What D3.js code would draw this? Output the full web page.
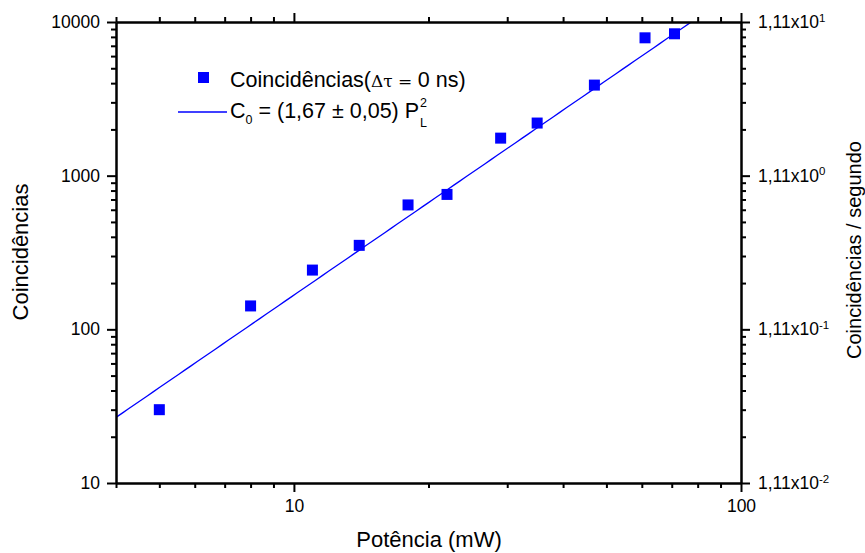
<!DOCTYPE html>
<html>
<head>
<meta charset="utf-8">
<script src="https://cdn.jsdelivr.net/npm/d3@7"></script>
<style>
  html, body { margin: 0; padding: 0; background: #fff; }
  svg { display: block; font-family: "Liberation Sans", Arial, sans-serif; }
</style>
</head>
<body>
<svg id="chart" width="865" height="553"></svg>
<script>
// Measured coincidences vs. laser power
const power  = [5, 8, 11, 14, 18, 22, 29, 35, 47, 61, 71];          // mW
const counts = [30, 142, 243, 352, 645, 755, 1755, 2200, 3885, 7890, 8380];

// Quadratic fit C0 = a * P^2
const fitCoef = 1.67;
const fitExp = 2;

// Axis ticks
const xMajor = [10, 100];
const xMinor = [4, 5, 6, 7, 8, 9, 20, 30, 40, 50, 60, 70, 80, 90];
const yMajor = [10, 100, 1000, 10000];
const yMinor = [20, 30, 40, 50, 60, 70, 80, 90,
                200, 300, 400, 500, 600, 700, 800, 900,
                2000, 3000, 4000, 5000, 6000, 7000, 8000, 9000];
const rateMantissa = "1,11x10";
const rateExponents = ["-2", "-1", "0", "1"];

const svg = d3.select("#chart");
const m = { left: 116, right: 741, top: 22, bottom: 483 };
const blue = "#0000ff";

const x = d3.scaleLog().domain([4, 100]).range([m.left, m.right]);
const y = d3.scaleLog().domain([10, 10000]).range([m.bottom, m.top]);

// clip region for the fit line
svg.append("defs").append("clipPath").attr("id", "plotClip")
  .append("rect")
  .attr("x", m.left).attr("y", m.top)
  .attr("width", m.right - m.left).attr("height", m.bottom - m.top);

// fit line
const fitPts = d3.range(0, 101).map(i => {
  const p = 4 * Math.pow(100 / 4, i / 100);
  return [p, fitCoef * Math.pow(p, fitExp)];
});
svg.append("path")
  .datum(fitPts)
  .attr("clip-path", "url(#plotClip)")
  .attr("fill", "none")
  .attr("stroke", blue)
  .attr("stroke-width", 1.3)
  .attr("d", d3.line().x(d => x(d[0])).y(d => y(d[1])));

// data markers
const sq = 11;
svg.append("g").selectAll("rect")
  .data(power.map((p, i) => [p, counts[i]]))
  .join("rect")
  .attr("x", d => x(d[0]) - sq / 2)
  .attr("y", d => y(d[1]) - sq / 2)
  .attr("width", sq).attr("height", sq)
  .attr("fill", blue);

// axes
function styleAxis(g) {
  g.select(".domain").attr("stroke", "#000").attr("stroke-width", 2);
  g.selectAll(".tick line").attr("stroke", "#000").attr("stroke-width", 2);
  g.selectAll("text").attr("fill", "#000").attr("font-size", 17.5)
    .attr("font-family", "'Liberation Sans', Arial, sans-serif");
}
const fmt = d3.format("d");

// bottom
svg.append("g").attr("transform", `translate(0,${m.bottom})`)
  .call(d3.axisBottom(x).tickValues(xMinor).tickSize(5).tickFormat("").tickSizeOuter(0))
  .call(styleAxis);
svg.append("g").attr("transform", `translate(0,${m.bottom})`)
  .call(d3.axisBottom(x).tickValues(xMajor).tickSize(9).tickPadding(8).tickFormat(fmt).tickSizeOuter(0))
  .call(styleAxis);
// top
svg.append("g").attr("transform", `translate(0,${m.top})`)
  .call(d3.axisTop(x).tickValues(xMinor).tickSize(5).tickFormat("").tickSizeOuter(0))
  .call(styleAxis);
svg.append("g").attr("transform", `translate(0,${m.top})`)
  .call(d3.axisTop(x).tickValues(xMajor).tickSize(9).tickFormat("").tickSizeOuter(0))
  .call(styleAxis);
// left
svg.append("g").attr("transform", `translate(${m.left},0)`)
  .call(d3.axisLeft(y).tickValues(yMinor).tickSize(5).tickFormat("").tickSizeOuter(0))
  .call(styleAxis);
svg.append("g").attr("transform", `translate(${m.left},0)`)
  .call(d3.axisLeft(y).tickValues(yMajor).tickSize(9).tickPadding(7).tickFormat(fmt).tickSizeOuter(0))
  .call(styleAxis);
// right
svg.append("g").attr("transform", `translate(${m.right},0)`)
  .call(d3.axisRight(y).tickValues(yMinor).tickSize(5).tickFormat("").tickSizeOuter(0))
  .call(styleAxis);
const rightAx = svg.append("g").attr("transform", `translate(${m.right},0)`)
  .call(d3.axisRight(y).tickValues(yMajor).tickSize(9).tickPadding(8).tickFormat("").tickSizeOuter(0))
  .call(styleAxis);
rightAx.selectAll(".tick text").each(function (d, i) {
  const t = d3.select(this).text(null);
  t.append("tspan").text(rateMantissa);
  t.append("tspan").attr("dy", "-0.55em").attr("font-size", 11.5).text(rateExponents[i]);
});

// axis titles
svg.append("text")
  .attr("x", 429).attr("y", 547)
  .attr("text-anchor", "middle").attr("font-size", 22)
  .text("Potência (mW)");
svg.append("text")
  .attr("transform", "translate(28,252) rotate(-90)")
  .attr("text-anchor", "middle").attr("font-size", 22)
  .text("Coincidências");
svg.append("text")
  .attr("transform", "translate(861,250) rotate(-90)")
  .attr("text-anchor", "middle").attr("font-size", 20)
  .text("Coincidências / segundo");

// legend
const lg = svg.append("g");
lg.append("rect").attr("x", 198).attr("y", 72).attr("width", 11).attr("height", 11).attr("fill", blue);
const l1 = lg.append("text").attr("x", 230).attr("y", 87).attr("font-size", 21.5);
l1.append("tspan").text("Coincidências(");
l1.append("tspan").attr("font-family", "'DejaVu Serif', serif").attr("font-size", 17).text("Δτ = ");
l1.append("tspan").text("0 ns)");

lg.append("line").attr("x1", 178).attr("x2", 227).attr("y1", 112).attr("y2", 112)
  .attr("stroke", blue).attr("stroke-width", 1.3);
const l2 = lg.append("text").attr("x", 230).attr("y", 118).attr("font-size", 21.5);
l2.append("tspan").text("C");
l2.append("tspan").attr("font-size", 12.5).attr("dy", 6).text("0");
l2.append("tspan").attr("dy", -6).text(" = (1,67 ");
l2.append("tspan").text("±");
l2.append("tspan").text(" 0,05) P");
const pEnd = l2.node().getComputedTextLength();
lg.append("text").attr("x", 230 + pEnd + 1).attr("y", 107).attr("font-size", 12.5).text("2");
lg.append("text").attr("x", 230 + pEnd + 1).attr("y", 127).attr("font-size", 12.5).text("L");
</script>
</body>
</html>
